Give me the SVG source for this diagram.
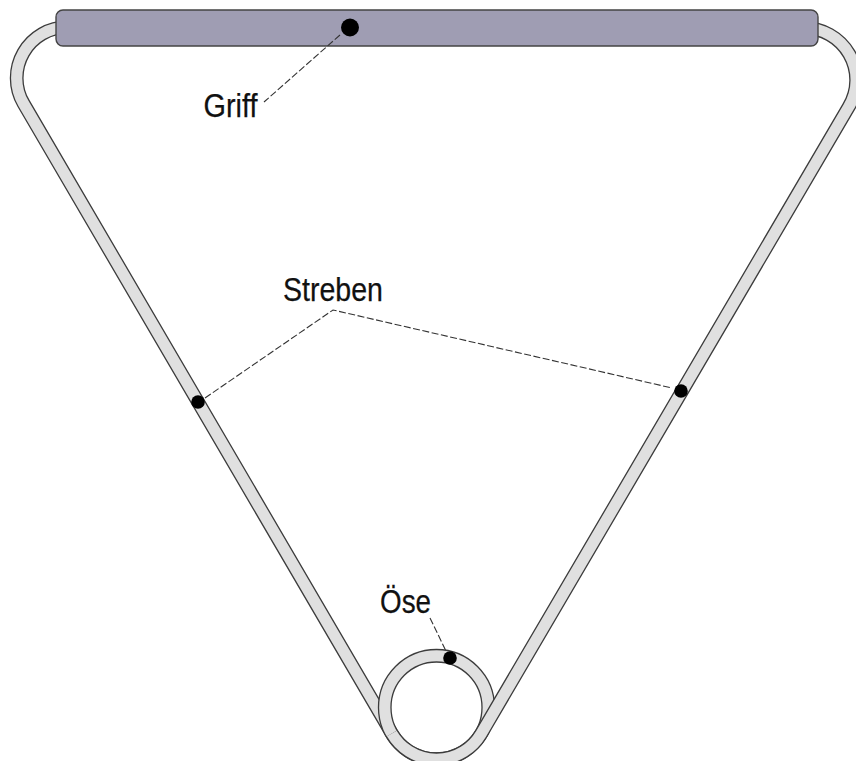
<svg xmlns="http://www.w3.org/2000/svg" width="856" height="761" viewBox="0 0 856 761">
<style>
.edge{fill:none;stroke:#3c3c3c;stroke-width:13.8}
.core{fill:none;stroke:#e0e0e0;stroke-width:11.2}
.dot{fill:#000}
.lead{fill:none;stroke:#333;stroke-width:1.1;stroke-dasharray:7 2.5}
text{font-family:"Liberation Sans",Arial,sans-serif;font-size:34px;fill:#111;stroke:#111;stroke-width:.25}
</style>
<defs>
<path id="left" d="M67.5 27.2A50.8 50.8 0 0 0 23.6 103.6L391.8 733.5"/>
<circle id="ring" cx="436.5" cy="707.5" r="51.75"/>
<path id="right" d="M391.8 733.5A51.75 51.75 0 0 0 481.1 733.8L848.6 107A52 52 0 0 0 803 28"/>
</defs>
<rect width="856" height="761" fill="#fff"/>
<g id="tube">
<use href="#left" class="edge"/><use href="#left" class="core"/>
<use href="#ring" class="edge"/><use href="#ring" class="core"/>
<use href="#right" class="edge"/><use href="#right" class="core"/>
</g>
<g id="griff">
<rect x="56" y="10" width="762" height="36" rx="7" fill="#9f9db3" stroke="#444" stroke-width="1.4"/>
<circle class="dot" cx="350" cy="27.5" r="9"/>
<text x="203.5" y="117" textLength="54" lengthAdjust="spacingAndGlyphs">Griff</text>
</g>
<g id="streben">
<circle class="dot" cx="198" cy="402" r="6.8"/>
<circle class="dot" cx="681" cy="391" r="6.8"/>
<text x="283" y="301" textLength="100" lengthAdjust="spacingAndGlyphs">Streben</text>
</g>
<g id="oese">
<circle class="dot" cx="450" cy="658" r="6.8"/>
<text x="380" y="613" textLength="51" lengthAdjust="spacingAndGlyphs">Öse</text>
</g>
<g id="connectors">
<path class="lead" d="M340 35L264 102"/>
<path class="lead" d="M205 398L333 310L672 388"/>
<path class="lead" d="M430 618L446 651"/>
</g>
</svg>
